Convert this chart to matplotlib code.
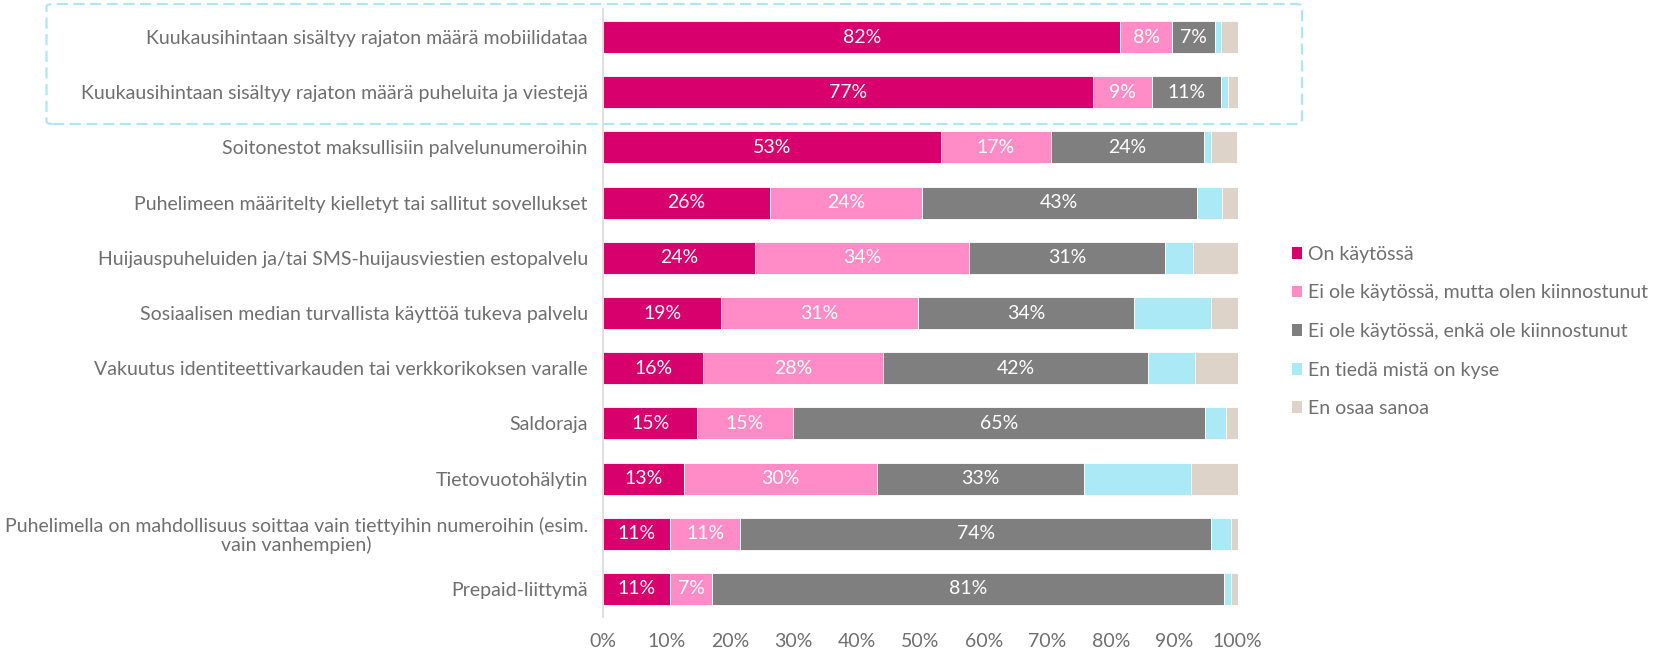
import matplotlib
matplotlib.use("Agg")
import matplotlib.pyplot as plt
from matplotlib.patches import FancyBboxPatch, Patch
import numpy as np

plt.rcParams['font.family'] = ['Lato', 'DejaVu Sans']

categories = [
    "Kuukausihintaan sisältyy rajaton määrä mobiilidataa",
    "Kuukausihintaan sisältyy rajaton määrä puheluita ja viestejä",
    "Soitonestot maksullisiin palvelunumeroihin",
    "Puhelimeen määritelty kielletyt tai sallitut sovellukset",
    "Huijauspuheluiden ja/tai SMS-huijausviestien estopalvelu",
    "Sosiaalisen median turvallista käyttöä tukeva palvelu",
    "Vakuutus identiteettivarkauden tai verkkorikoksen varalle",
    "Saldoraja",
    "Tietovuotohälytin",
    "Puhelimella on mahdollisuus soittaa vain tiettyihin numeroihin (esim.\nvain vanhempien)",
    "Prepaid-liittymä",
]
series_names = [
    "On käytössä",
    "Ei ole käytössä, mutta olen kiinnostunut",
    "Ei ole käytössä, enkä ole kiinnostunut",
    "En tiedä mistä on kyse",
    "En osaa sanoa",
]
on_kaytossa      = [81.5, 77.2, 53.2, 26.3, 24.0, 18.6, 15.8, 14.8, 12.8, 10.6, 10.6]
kiinnostunut     = [8.2, 9.3, 17.4, 23.9, 33.7, 31.0, 28.3, 15.1, 30.3, 11.0, 6.6]
ei_kiinnostunut  = [6.7, 10.9, 24.1, 43.3, 30.9, 34.0, 41.8, 64.9, 32.6, 74.2, 80.7]
en_tieda         = [1.0, 1.1, 1.1, 4.0, 4.3, 12.2, 7.3, 3.3, 16.9, 3.1, 1.0]
en_osaa          = [2.6, 1.5, 4.1, 2.5, 7.1, 4.2, 6.8, 1.9, 7.4, 1.1, 1.1]
series = [on_kaytossa, kiinnostunut, ei_kiinnostunut, en_tieda, en_osaa]
colors = ["#d7006d", "#ff8cc6", "#7f7f7f", "#abe9f7", "#ddd3c9"]
labeled = [True, True, True, False, False]
xticks = [0, 10, 20, 30, 40, 50, 60, 70, 80, 90, 100]

text_color = "#6f6f6f"
fs = 14

fig = plt.figure(figsize=(16.57, 6.5), dpi=100)
ax = fig.add_axes([0.364, 0.0514, 0.747 - 0.364, 0.9855 - 0.0514])

y = np.arange(len(categories))
left = np.zeros(len(categories))
for vals, col, name, lab in zip(series, colors, series_names, labeled):
    vals = np.array(vals)
    ax.barh(y, vals, left=left, height=0.58, color=col,
            edgecolor="white", linewidth=0.6, label=name)
    if lab:
        for yi, l, v in zip(y, left, vals):
            ax.text(l + v / 2, yi, f"{round(v)}%", ha="center", va="center",
                    color="white", fontsize=fs)
    left += vals

ax.set_xlim(0, 100)
ax.set_ylim(len(categories) - 0.5, -0.5)
ax.set_yticks(y)
ax.set_yticklabels(categories, fontsize=fs, color=text_color, ha="right",
                   multialignment="center", linespacing=1.05)
ax.set_xticks(xticks)
ax.set_xticklabels([f"{t}%" for t in xticks], fontsize=fs, color=text_color)
ax.tick_params(axis="both", length=0)
ax.tick_params(axis="y", pad=11)
ax.tick_params(axis="x", pad=12)
for s in ["top", "right", "bottom"]:
    ax.spines[s].set_visible(False)
ax.spines["left"].set_color("#d9d9d9")
ax.spines["left"].set_linewidth(1.2)

# dashed highlight box
box = FancyBboxPatch((46.5 / 1657, 1 - 124 / 650), (1302 - 46.5) / 1657, (124 - 4) / 650,
                     boxstyle="round,pad=0,rounding_size=0.004",
                     transform=fig.transFigure, fill=False,
                     edgecolor="#aee6f5", linewidth=1.6, linestyle=(0, (5, 2.5)))
fig.patches.append(box)

handles = [Patch(facecolor=c, edgecolor="none") for c in colors]
leg = fig.legend(handles, series_names, loc="upper left",
                 bbox_to_anchor=(1284 / 1657, 1 - 238 / 650), frameon=False,
                 fontsize=fs, handlelength=0.5, handleheight=0.55,
                 handletextpad=0.35, labelspacing=1.11, borderaxespad=0)
for t in leg.get_texts():
    t.set_color(text_color)

fig.savefig("out.png", dpi=100)
